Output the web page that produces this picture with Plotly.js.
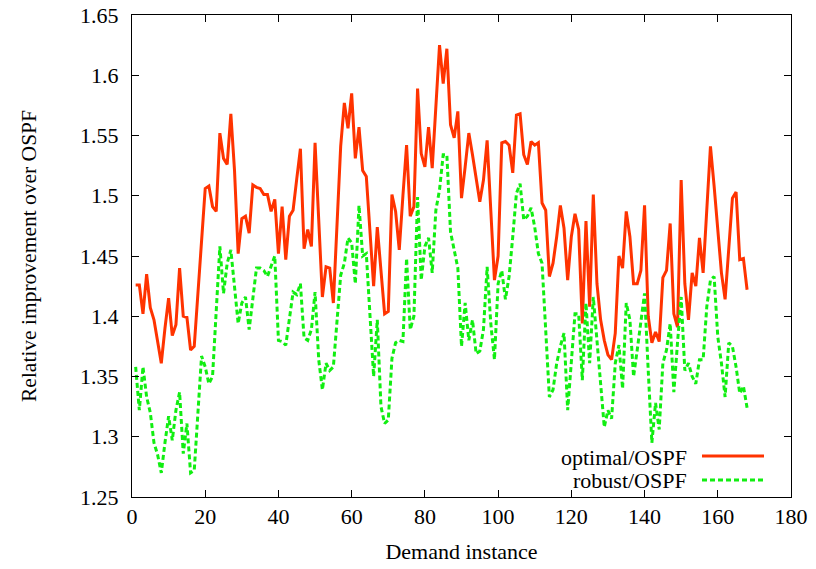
<!DOCTYPE html>
<html>
<head>
<meta charset="utf-8">
<script src="https://cdn.plot.ly/plotly-3.0.1.min.js"></script>
<style>html,body{margin:0;padding:0;background:#fff;}#chart{width:816px;height:569px;}</style>
</head>
<body>
<div id="chart"></div>
<script>
var seriesNames = ["optimal/OSPF", "robust/OSPF"];
var optimal = [1.426,1.426,1.402,1.435,1.407,1.397,1.379,1.361,1.390,1.415,
1.384,1.393,1.440,1.400,1.399,1.372,1.375,1.418,1.461,1.506,
1.508,1.491,1.487,1.552,1.531,1.526,1.568,1.521,1.452,1.481,
1.483,1.469,1.509,1.507,1.506,1.501,1.501,1.487,1.497,1.452,
1.491,1.447,1.483,1.488,1.514,1.539,1.456,1.472,1.458,1.544,
1.480,1.416,1.441,1.440,1.411,1.483,1.541,1.577,1.556,1.585,
1.531,1.557,1.521,1.516,1.469,1.425,1.474,1.440,1.402,1.404,
1.501,1.487,1.455,1.500,1.542,1.483,1.491,1.589,1.535,1.524,
1.557,1.523,1.571,1.625,1.593,1.622,1.559,1.548,1.570,1.498,
1.524,1.552,1.534,1.516,1.495,1.513,1.546,1.488,1.430,1.450,
1.544,1.545,1.542,1.519,1.567,1.568,1.534,1.526,1.545,1.542,
1.544,1.494,1.488,1.433,1.444,1.466,1.492,1.473,1.430,1.466,
1.485,1.472,1.394,1.479,1.408,1.501,1.427,1.397,1.380,1.368,
1.364,1.386,1.450,1.440,1.487,1.466,1.427,1.427,1.438,1.492,
1.400,1.378,1.387,1.379,1.432,1.438,1.477,1.402,1.391,1.513,
1.427,1.397,1.436,1.425,1.465,1.436,1.488,1.541,1.508,1.472,
1.436,1.414,1.455,1.498,1.503,1.447,1.448,1.422];
var robust = [1.358,1.322,1.358,1.333,1.320,1.295,1.285,1.270,1.295,1.317,
1.297,1.322,1.337,1.286,1.311,1.270,1.272,1.320,1.367,1.358,
1.344,1.350,1.400,1.458,1.419,1.444,1.455,1.427,1.394,1.411,
1.416,1.389,1.416,1.440,1.440,1.438,1.433,1.441,1.450,1.380,
1.379,1.376,1.397,1.420,1.418,1.427,1.382,1.380,1.389,1.420,
1.364,1.339,1.361,1.355,1.358,1.397,1.434,1.444,1.465,1.461,
1.427,1.492,1.450,1.452,1.400,1.350,1.397,1.325,1.311,1.314,
1.365,1.378,1.380,1.379,1.448,1.389,1.400,1.499,1.430,1.458,
1.465,1.436,1.488,1.505,1.534,1.534,1.470,1.455,1.440,1.375,
1.411,1.380,1.397,1.369,1.371,1.389,1.441,1.394,1.364,1.427,
1.438,1.414,1.433,1.466,1.502,1.510,1.480,1.483,1.490,1.474,
1.452,1.444,1.383,1.333,1.339,1.361,1.375,1.386,1.322,1.361,
1.402,1.402,1.347,1.411,1.361,1.416,1.378,1.347,1.308,1.322,
1.315,1.361,1.376,1.340,1.411,1.397,1.350,1.372,1.394,1.419,
1.355,1.295,1.328,1.306,1.361,1.372,1.394,1.337,1.378,1.416,
1.355,1.361,1.350,1.344,1.364,1.364,1.408,1.430,1.433,1.383,
1.361,1.333,1.378,1.375,1.358,1.336,1.342,1.324];
var instances = optimal.map(function(_, i){ return i + 1; });
var yTickVals = [1.25,1.3,1.35,1.4,1.45,1.5,1.55,1.6,1.65];
var yTickText = ["1.25","1.3","1.35","1.4","1.45","1.5","1.55","1.6","1.65"];
var xTickVals = [0,20,40,60,80,100,120,140,160,180];

var redColor = "#ff3300";
var greenColor = "#11ee11";
var font = "Liberation Serif, Times New Roman, serif";

var traces = [
  {x: instances, y: optimal, type: "scatter", mode: "lines", name: seriesNames[0],
   line: {color: redColor, width: 3}, showlegend: false},
  {x: instances, y: robust, type: "scatter", mode: "lines", name: seriesNames[1],
   line: {color: greenColor, width: 3, dash: "5px,3px"}, showlegend: false}
];

var layout = {
  width: 816, height: 569,
  margin: {l: 132, r: 25, t: 15, b: 72},
  paper_bgcolor: "#fff", plot_bgcolor: "#fff",
  font: {family: font, size: 22, color: "#000"},
  xaxis: {
    range: [0, 180], tickvals: xTickVals, ticks: "inside", ticklen: 7,
    tickcolor: "#000", showline: true, linecolor: "#000", linewidth: 1,
    mirror: "ticks", showgrid: false, zeroline: false, tickfont: {size: 22},
    title: {text: "Demand instance", font: {size: 22}, standoff: 15}
  },
  yaxis: {
    range: [1.25, 1.65], tickvals: yTickVals, ticktext: yTickText,
    ticks: "inside", ticklen: 7, tickcolor: "#000", showline: true,
    linecolor: "#000", linewidth: 1, mirror: "ticks", showgrid: false,
    zeroline: false, ticklabelstandoff: 8, tickfont: {size: 22},
    title: {text: "Relative improvement over OSPF", font: {size: 21.5}, standoff: 37}
  },
  annotations: [
    {xref: "paper", yref: "paper", x: (689 - 132) / 659, y: (497 - 457) / 482,
     xanchor: "right", yanchor: "middle", text: seriesNames[0], showarrow: false,
     font: {size: 22}},
    {xref: "paper", yref: "paper", x: (689 - 132) / 659, y: (497 - 480) / 482,
     xanchor: "right", yanchor: "middle", text: seriesNames[1], showarrow: false,
     font: {size: 22}}
  ],
  shapes: [
    {type: "line", xref: "paper", yref: "paper", x0: (702 - 132) / 659, x1: (764 - 132) / 659,
     y0: (497 - 456) / 482, y1: (497 - 456) / 482, line: {color: redColor, width: 3}},
    {type: "line", xref: "paper", yref: "paper", x0: (702 - 132) / 659, x1: (764 - 132) / 659,
     y0: (497 - 480) / 482, y1: (497 - 480) / 482, line: {color: greenColor, width: 3, dash: "5px,3px"}}
  ]
};

Plotly.newPlot("chart", traces, layout, {displayModeBar: false, staticPlot: true});
</script>
</body>
</html>
